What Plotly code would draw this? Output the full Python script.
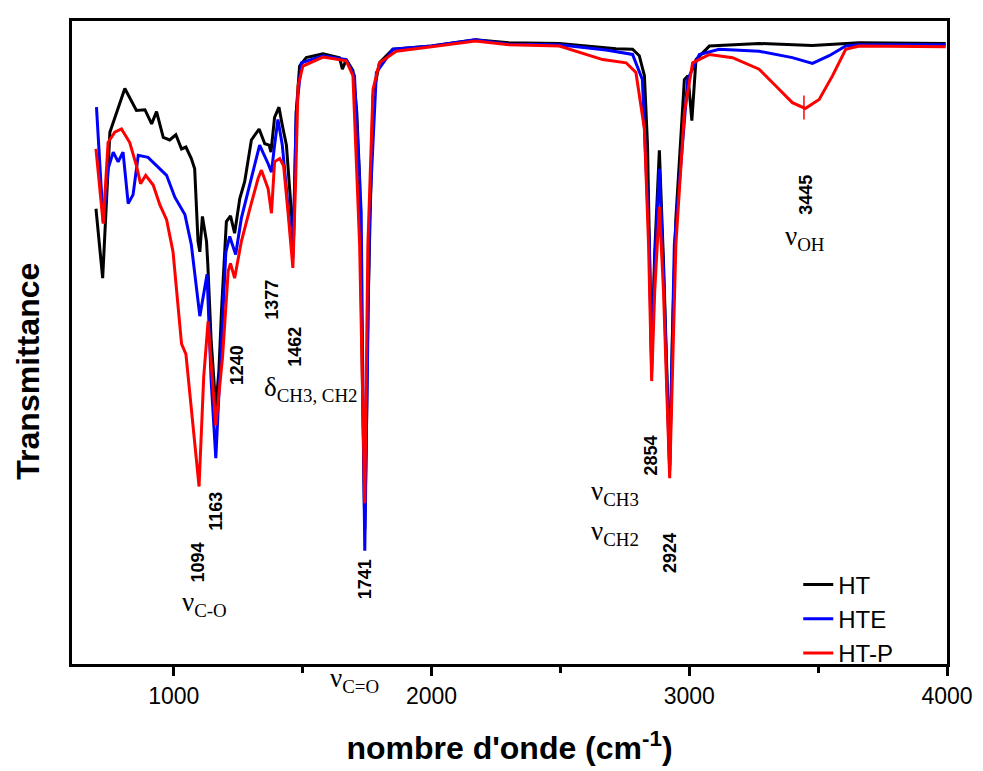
import plotly.graph_objects as go

# HT (black)
ht_x = [698, 724, 752, 810, 855, 888, 914, 933, 959, 984, 1008, 1030, 1047, 1068, 1081, 1094, 1101, 1111, 1127, 1132, 1145, 1163, 1175, 1185, 1204, 1220, 1236, 1256, 1275, 1301, 1331, 1353, 1370, 1377, 1391, 1408, 1421, 1437, 1456, 1465, 1475, 1488, 1514, 1579, 1643, 1654, 1669, 1695, 1710, 1721, 1733, 1741, 1748, 1753, 1773, 1798, 1850, 2000, 2170, 2300, 2496, 2677, 2716, 2780, 2806, 2826, 2838, 2854, 2866, 2884, 2900, 2924, 2935, 2948, 2981, 2995, 3010, 3026, 3078, 3271, 3477, 3659, 3995]
ht_y = [70.8, 60.0, 82.7, 89.5, 86.1, 86.2, 84.0, 85.9, 81.9, 81.5, 82.3, 80.1, 80.4, 78.6, 77.0, 65.7, 64.1, 69.6, 65.7, 62.1, 50.2, 39.9, 45.6, 54.9, 68.8, 69.7, 67.0, 72.4, 75.0, 81.5, 83.2, 80.9, 80.7, 79.6, 85.0, 86.6, 83.8, 80.7, 70.3, 66.5, 85.8, 93.0, 94.3, 94.9, 94.3, 92.5, 94.0, 92.3, 85.8, 75.5, 41.0, 20.9, 37.9, 54.9, 88.4, 93.5, 95.6, 96.1, 97.1, 96.6, 96.5, 95.8, 95.7, 95.6, 94.6, 91.5, 80.7, 47.1, 64.1, 79.9, 62.6, 30.9, 51.8, 69.3, 90.9, 91.5, 84.5, 94.0, 96.1, 96.5, 96.2, 96.6, 96.5]

# HTE (blue)
hte_x = [700, 726, 745, 765, 784, 803, 823, 842, 862, 900, 946, 972, 1004, 1043, 1068, 1094, 1101, 1129, 1145, 1163, 1180, 1202, 1217, 1240, 1262, 1295, 1333, 1366, 1379, 1391, 1404, 1421, 1450, 1462, 1475, 1495, 1579, 1669, 1701, 1727, 1735, 1741, 1748, 1760, 1786, 1850, 2000, 2170, 2300, 2496, 2677, 2780, 2818, 2845, 2854, 2866, 2884, 2900, 2924, 2942, 2994, 3039, 3116, 3271, 3400, 3478, 3543, 3607, 3659, 3995]
hte_y = [86.6, 68.8, 77.0, 79.6, 78.1, 79.6, 71.6, 73.0, 79.1, 78.8, 77.0, 76.0, 72.6, 69.9, 65.2, 56.4, 54.1, 60.6, 44.0, 32.0, 47.1, 64.1, 66.5, 63.7, 69.3, 74.5, 80.7, 77.8, 76.5, 80.7, 84.7, 80.7, 68.3, 63.1, 85.8, 93.5, 94.6, 94.0, 91.5, 70.3, 37.9, 17.6, 37.9, 70.3, 92.0, 95.6, 96.1, 97.1, 96.4, 96.3, 95.5, 94.8, 90.9, 65.2, 45.6, 62.6, 77.0, 61.1, 30.1, 65.2, 90.9, 94.8, 95.6, 95.3, 94.3, 93.4, 94.6, 96.1, 96.3, 96.3]

# HT-P (red)
htp_x = [698, 726, 745, 771, 797, 829, 855, 871, 891, 920, 946, 972, 997, 1017, 1030, 1047, 1068, 1098, 1116, 1133, 1163, 1189, 1211, 1220, 1236, 1262, 1295, 1327, 1340, 1366, 1379, 1391, 1411, 1426, 1443, 1462, 1473, 1482, 1501, 1579, 1669, 1695, 1721, 1741, 1753, 1773, 1798, 1863, 2000, 2170, 2300, 2496, 2664, 2755, 2793, 2826, 2842, 2854, 2866, 2884, 2900, 2924, 2948, 2981, 3013, 3078, 3168, 3271, 3336, 3400, 3450, 3504, 3556, 3607, 3659, 3995]
htp_y = [80.1, 68.5, 81.1, 82.7, 83.2, 81.1, 77.5, 74.7, 76.0, 74.5, 71.4, 69.1, 64.1, 54.9, 49.8, 48.2, 39.4, 27.6, 44.6, 53.3, 37.1, 47.7, 61.1, 62.3, 60.0, 65.7, 70.8, 75.5, 76.8, 73.9, 70.1, 78.1, 78.6, 77.5, 70.3, 61.6, 75.5, 89.9, 93.0, 94.4, 93.8, 91.5, 65.2, 25.0, 65.2, 89.4, 93.5, 95.3, 96.0, 96.9, 96.3, 96.1, 94.0, 93.5, 92.0, 83.2, 65.2, 44.0, 58.0, 71.1, 58.0, 28.9, 65.2, 85.8, 93.5, 94.8, 94.3, 92.5, 89.9, 87.3, 86.4, 87.8, 91.5, 95.6, 96.1, 96.0]

# peak labels: (text, x, y)
peak_labels = [("1094", 1094, 15.8), ("1163", 1163, 23.8), ("1240", 1244, 46.4),
               ("1377", 1380, 56.6), ("1462", 1469, 49.3), ("1741", 1740, 13.1),
               ("2854", 2853, 32.5), ("2924", 2926, 17.3), ("3445", 3450, 73.0)]
band_labels = [("ν<sub>C-O</sub>", 1120, 9.3), ("δ<sub>CH3, CH2</sub>", 1531, 42.7),
               ("ν<sub>CH3</sub>", 2713, 26.6), ("ν<sub>CH2</sub>", 2713, 20.4),
               ("ν<sub>OH</sub>", 3450, 66.2)]

fig = go.Figure()
for name, xs, ys, col in [("HT", ht_x, ht_y, "#000000"),
                          ("HTE", hte_x, hte_y, "#0000FF"),
                          ("HT-P", htp_x, htp_y, "#FF0000")]:
    fig.add_trace(go.Scatter(x=xs, y=ys, mode="lines", name=name,
                             line=dict(color=col, width=3)))

# small marker tick at 3445 on HT-P
fig.add_shape(type="line", x0=3445, x1=3445, y0=84.7, y1=88.4,
              line=dict(color="#FF0000", width=1.5))

for t, x, y in peak_labels:
    fig.add_annotation(x=x, y=y, text="<b>" + t + "</b>", showarrow=False,
                       textangle=-90, font=dict(family="Arial, Liberation Sans", size=18, color="black"))
for t, x, y in band_labels:
    fig.add_annotation(x=x, y=y, text=t, showarrow=False,
                       font=dict(family="Times New Roman, Liberation Serif", size=27, color="black"))
fig.add_annotation(x=1702, y=-0.055, yref="paper", text="ν<sub>C=O</sub>", showarrow=False,
                   font=dict(family="Times New Roman, Liberation Serif", size=27, color="black"))
# y-axis title
fig.add_annotation(x=-0.05, xref="paper", xanchor="center", y=0.455, yref="paper",
                   text="<b>Transmittance</b>", showarrow=False, textangle=-90,
                   font=dict(family="Arial, Liberation Sans", size=32, color="black"))

fig.update_layout(
    width=975, height=763,
    margin=dict(l=64, r=35, t=10, b=106),
    plot_bgcolor="white", paper_bgcolor="white",
    font=dict(family="Arial, Liberation Sans", color="black"),
    legend=dict(x=0.83, y=0.158, xanchor="left", yanchor="top",
                font=dict(size=24, family="Arial, Liberation Sans"),
                bgcolor="rgba(0,0,0,0)", tracegroupgap=0),
    xaxis=dict(range=[605, 4000], tickvals=[1000, 2000, 3000, 4000],
               ticks="outside", ticklen=9, tickwidth=3, tickcolor="black",
               minor=dict(tickvals=[1500, 2500, 3500], ticks="outside", ticklen=6, tickwidth=3, tickcolor="black"),
               showline=True, linewidth=3, linecolor="black", mirror=True,
               showgrid=False, zeroline=False,
               tickfont=dict(size=23, family="Arial, Liberation Sans"),
               title=dict(text="<b>nombre d'onde (cm<sup>-1</sup>)</b>", font=dict(size=32), standoff=30)),
    yaxis=dict(range=[0, 100], showticklabels=False, ticks="",
               showline=True, linewidth=3, linecolor="black", mirror=True,
               showgrid=False, zeroline=False),
)

fig.write_html("out.html")
